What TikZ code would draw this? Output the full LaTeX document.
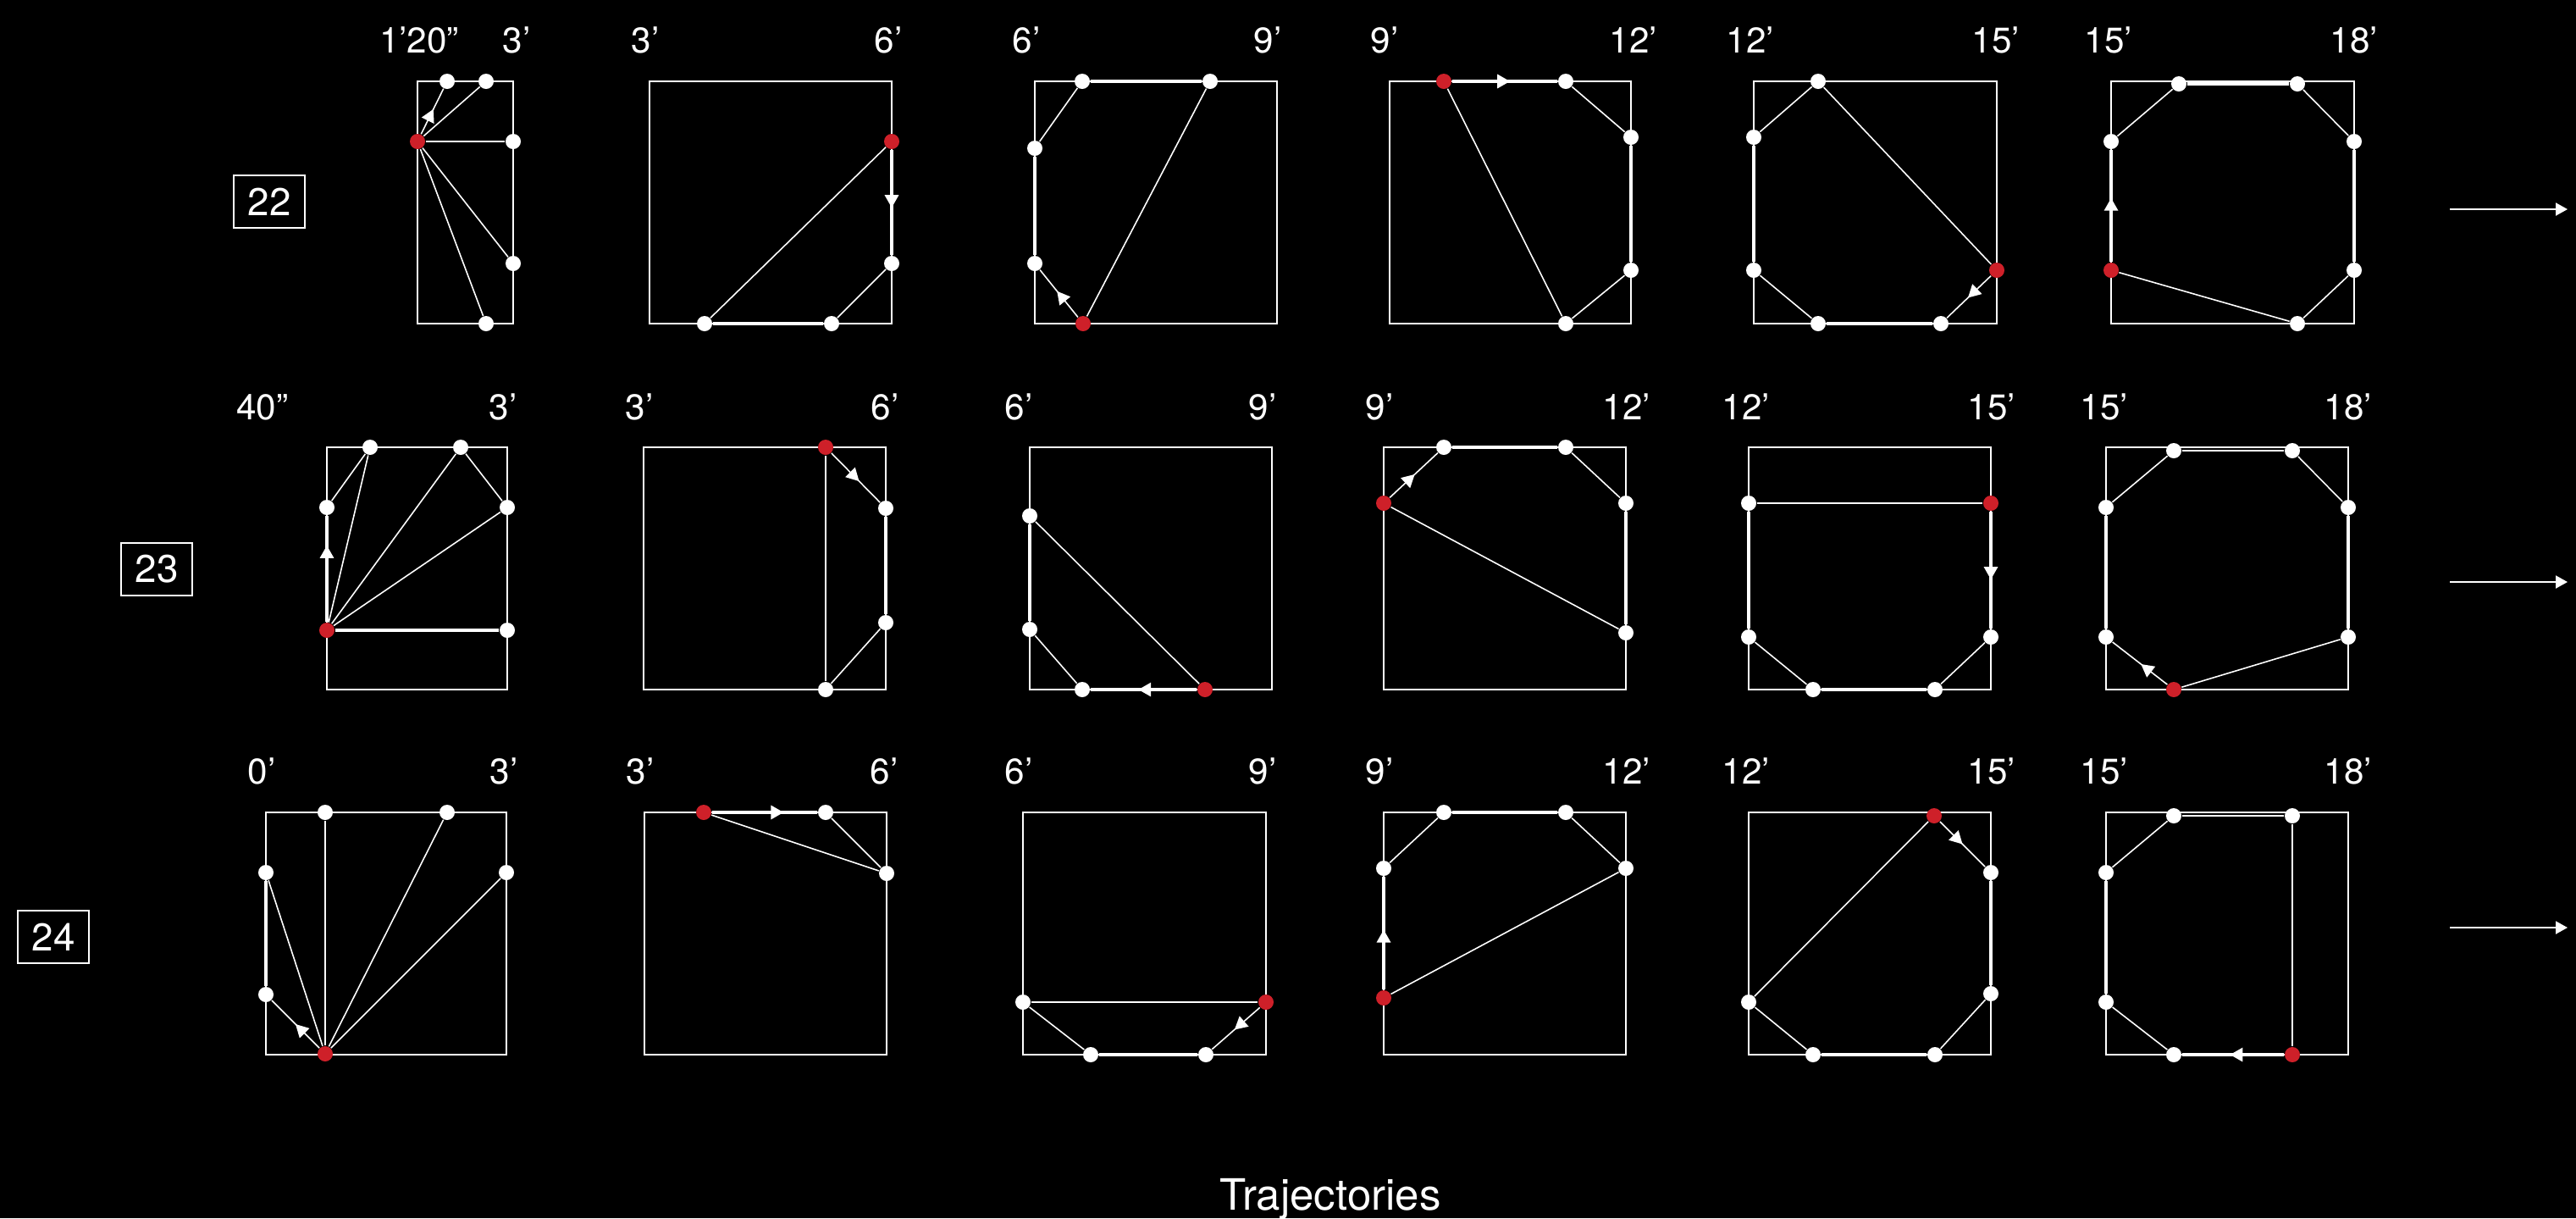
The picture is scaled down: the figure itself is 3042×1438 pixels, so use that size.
\documentclass[tikz,border=0pt]{standalone}
\usepackage{fontspec}
\setmainfont{TeX Gyre Heros}
\usetikzlibrary{arrows.meta, decorations.markings}
\definecolor{dotred}{RGB}{206,32,41}
\begin{document}
\begin{tikzpicture}[x=0.01cm, y=-0.01cm,
  panel/.style={draw=white, line width=0.57pt},
  traj/.style={draw=white, line width=0.45pt},
  edgetraj/.style={draw=white, line width=0.9pt},
  wdot/.style={circle, fill=white, inner sep=0pt, minimum size=0.18cm},
  rdot/.style={wdot, fill=dotred},
  tlabel/.style={text=white, anchor=base, inner sep=0pt, font=\fontsize{12}{14}\selectfont},
  rowbox/.style={draw=white, line width=0.57pt, text=white, inner sep=0pt, minimum width=0.84cm, minimum height=0.62cm, font=\fontsize{13}{15}\selectfont},
  flow/.style={draw=white, line width=0.57pt, -{Triangle[width=0.15cm, length=0.14cm]}},
  arrowat/.style={postaction={decorate}, decoration={markings, mark=at position #1 with {\arrow{Triangle[width=0.16cm, length=0.15cm]}}}}]
\useasboundingbox (0,0) rectangle (3042,1438);
\fill[black] (0,0) rectangle (3042,1438);

\node[rowbox] (n22) at (318,238) {22};
\node[rowbox] (n23) at (185,672) {23};
\node[rowbox] (n24) at (63,1106) {24};

\draw[panel] (493,96) rectangle (606,382);
\draw[panel] (767,96) rectangle (1053,382);
\draw[panel] (1222,96) rectangle (1508,382);
\draw[panel] (1641,96) rectangle (1926,382);
\draw[panel] (2071,96) rectangle (2358,382);
\draw[panel] (2493,96) rectangle (2780,382);
\draw[panel] (386,528) rectangle (599,814);
\draw[panel] (760,528) rectangle (1046,814);
\draw[panel] (1216,528) rectangle (1502,814);
\draw[panel] (1634,528) rectangle (1920,814);
\draw[panel] (2065,528) rectangle (2351,814);
\draw[panel] (2487,528) rectangle (2773,814);
\draw[panel] (314,959) rectangle (598,1245);
\draw[panel] (761,959) rectangle (1047,1245);
\draw[panel] (1208,959) rectangle (1495,1245);
\draw[panel] (1634,959) rectangle (1920,1245);
\draw[panel] (2065,959) rectangle (2351,1245);
\draw[panel] (2487,959) rectangle (2773,1245);

\node[tlabel] (a1lab0) at (495,62) {1’20”};
\node[tlabel] (a1lab1) at (610,62) {3’};
\node[tlabel] (a2lab0) at (762,62) {3’};
\node[tlabel] (a2lab1) at (1049,62) {6’};
\node[tlabel] (a3lab0) at (1212,62) {6’};
\node[tlabel] (a3lab1) at (1497,62) {9’};
\node[tlabel] (a4lab0) at (1635,62) {9’};
\node[tlabel] (a4lab1) at (1929,62) {12’};
\node[tlabel] (a5lab0) at (2067,62) {12’};
\node[tlabel] (a5lab1) at (2357,62) {15’};
\node[tlabel] (a6lab0) at (2490,62) {15’};
\node[tlabel] (a6lab1) at (2780,62) {18’};
\node[tlabel] (b1lab0) at (310,495) {40”};
\node[tlabel] (b1lab1) at (594,495) {3’};
\node[tlabel] (b2lab0) at (755,495) {3’};
\node[tlabel] (b2lab1) at (1045,495) {6’};
\node[tlabel] (b3lab0) at (1203,495) {6’};
\node[tlabel] (b3lab1) at (1491,495) {9’};
\node[tlabel] (b4lab0) at (1629,495) {9’};
\node[tlabel] (b4lab1) at (1921,495) {12’};
\node[tlabel] (b5lab0) at (2062,495) {12’};
\node[tlabel] (b5lab1) at (2352,495) {15’};
\node[tlabel] (b6lab0) at (2485,495) {15’};
\node[tlabel] (b6lab1) at (2773,495) {18’};
\node[tlabel] (c1lab0) at (309,925) {0’};
\node[tlabel] (c1lab1) at (595,925) {3’};
\node[tlabel] (c2lab0) at (756,925) {3’};
\node[tlabel] (c2lab1) at (1044,925) {6’};
\node[tlabel] (c3lab0) at (1203,925) {6’};
\node[tlabel] (c3lab1) at (1491,925) {9’};
\node[tlabel] (c4lab0) at (1629,925) {9’};
\node[tlabel] (c4lab1) at (1921,925) {12’};
\node[tlabel] (c5lab0) at (2062,925) {12’};
\node[tlabel] (c5lab1) at (2352,925) {15’};
\node[tlabel] (c6lab0) at (2485,925) {15’};
\node[tlabel] (c6lab1) at (2773,925) {18’};

\node[rdot] (a1s) at (493,167) {};
\node[wdot] (a1t1) at (528,96) {};
\node[wdot] (a1t2) at (574,96) {};
\node[wdot] (a1r1) at (606,167) {};
\node[wdot] (a1r2) at (606,311) {};
\node[wdot] (a1b1) at (574,382) {};
\draw[traj, arrowat=0.55] (a1s) -- (a1t1);
\draw[traj] (a1s) -- (a1t2);
\draw[traj] (a1s) -- (a1r1);
\draw[traj] (a1s) -- (a1r2);
\draw[traj] (a1s) -- (a1b1);

\node[rdot] (a2s) at (1053,167) {};
\node[wdot] (a2r2) at (1053,311) {};
\node[wdot] (a2b1) at (832,382) {};
\node[wdot] (a2b2) at (982,382) {};
\draw[edgetraj, arrowat=0.55] (a2s) -- (a2r2);
\draw[traj] (a2r2) -- (a2b2);
\draw[edgetraj] (a2b2) -- (a2b1);
\draw[traj] (a2b1) -- (a2s);

\node[rdot] (a3s) at (1279,382) {};
\node[wdot] (a3l2) at (1222,311) {};
\node[wdot] (a3l1) at (1222,175) {};
\node[wdot] (a3t1) at (1278,96) {};
\node[wdot] (a3t2) at (1429,96) {};
\draw[traj, arrowat=0.55] (a3s) -- (a3l2);
\draw[edgetraj] (a3l2) -- (a3l1);
\draw[traj] (a3l1) -- (a3t1);
\draw[edgetraj] (a3t1) -- (a3t2);
\draw[traj] (a3t2) -- (a3s);

\node[rdot] (a4s) at (1705,96) {};
\node[wdot] (a4t2) at (1849,96) {};
\node[wdot] (a4r1) at (1926,162) {};
\node[wdot] (a4r2) at (1926,319) {};
\node[wdot] (a4b2) at (1849,382) {};
\draw[edgetraj, arrowat=0.55] (a4s) -- (a4t2);
\draw[traj] (a4t2) -- (a4r1);
\draw[edgetraj] (a4r1) -- (a4r2);
\draw[traj] (a4r2) -- (a4b2);
\draw[traj] (a4b2) -- (a4s);

\node[rdot] (a5s) at (2358,319) {};
\node[wdot] (a5b2) at (2292,382) {};
\node[wdot] (a5b1) at (2147,382) {};
\node[wdot] (a5l2) at (2071,319) {};
\node[wdot] (a5l1) at (2071,162) {};
\node[wdot] (a5t1) at (2147,96) {};
\draw[traj, arrowat=0.52] (a5s) -- (a5b2);
\draw[edgetraj] (a5b2) -- (a5b1);
\draw[traj] (a5b1) -- (a5l2);
\draw[edgetraj] (a5l2) -- (a5l1);
\draw[traj] (a5l1) -- (a5t1);
\draw[traj] (a5t1) -- (a5s);

\node[rdot] (a6s) at (2493,319) {};
\node[wdot] (a6l1) at (2493,167) {};
\node[wdot] (a6t1) at (2573,99) {};
\node[wdot] (a6t2) at (2713,99) {};
\node[wdot] (a6r1) at (2780,167) {};
\node[wdot] (a6r2) at (2780,319) {};
\node[wdot] (a6b2) at (2713,382) {};
\draw[edgetraj, arrowat=0.57] (a6s) -- (a6l1);
\draw[traj] (a6l1) -- (a6t1);
\draw[edgetraj] (a6t1) -- (a6t2);
\draw[traj] (a6t2) -- (a6r1);
\draw[edgetraj] (a6r1) -- (a6r2);
\draw[traj] (a6r2) -- (a6b2);
\draw[traj] (a6b2) -- (a6s);

\node[rdot] (b1s) at (386,744) {};
\node[wdot] (b1l1) at (386,599) {};
\node[wdot] (b1t1) at (437,528) {};
\node[wdot] (b1t2) at (544,528) {};
\node[wdot] (b1r1) at (599,599) {};
\node[wdot] (b1r2) at (599,744) {};
\draw[edgetraj, arrowat=0.72] (b1s) -- (b1l1);
\draw[traj] (b1l1) -- (b1t1);
\draw[traj] (b1s) -- (b1t1);
\draw[traj] (b1s) -- (b1t2);
\draw[traj] (b1t2) -- (b1r1);
\draw[traj] (b1s) -- (b1r1);
\draw[edgetraj] (b1s) -- (b1r2);

\node[rdot] (b2s) at (975,528) {};
\node[wdot] (b2r1) at (1046,600) {};
\node[wdot] (b2r2) at (1046,735) {};
\node[wdot] (b2b1) at (975,814) {};
\draw[traj, arrowat=0.57] (b2s) -- (b2r1);
\draw[edgetraj] (b2r1) -- (b2r2);
\draw[traj] (b2r2) -- (b2b1);
\draw[traj] (b2b1) -- (b2s);

\node[rdot] (b3s) at (1423,814) {};
\node[wdot] (b3b1) at (1278,814) {};
\node[wdot] (b3l2) at (1216,743) {};
\node[wdot] (b3l1) at (1216,609) {};
\draw[edgetraj, arrowat=0.55] (b3s) -- (b3b1);
\draw[traj] (b3b1) -- (b3l2);
\draw[edgetraj] (b3l2) -- (b3l1);
\draw[traj] (b3l1) -- (b3s);

\node[rdot] (b4s) at (1634,594) {};
\node[wdot] (b4t1) at (1705,528) {};
\node[wdot] (b4t2) at (1849,528) {};
\node[wdot] (b4r1) at (1920,594) {};
\node[wdot] (b4r2) at (1920,747) {};
\draw[traj, arrowat=0.52] (b4s) -- (b4t1);
\draw[edgetraj] (b4t1) -- (b4t2);
\draw[traj] (b4t2) -- (b4r1);
\draw[edgetraj] (b4r1) -- (b4r2);
\draw[traj] (b4r2) -- (b4s);

\node[rdot] (b5s) at (2351,594) {};
\node[wdot] (b5l1) at (2065,594) {};
\node[wdot] (b5r2) at (2351,752) {};
\node[wdot] (b5l2) at (2065,752) {};
\node[wdot] (b5b1) at (2141,814) {};
\node[wdot] (b5b2) at (2285,814) {};
\draw[edgetraj, arrowat=0.58] (b5s) -- (b5r2);
\draw[traj] (b5r2) -- (b5b2);
\draw[edgetraj] (b5b2) -- (b5b1);
\draw[traj] (b5b1) -- (b5l2);
\draw[edgetraj] (b5l2) -- (b5l1);
\draw[traj] (b5l1) -- (b5s);

\node[rdot] (b6s) at (2567,814) {};
\node[wdot] (b6l2) at (2487,752) {};
\node[wdot] (b6l1) at (2487,599) {};
\node[wdot] (b6t1) at (2567,532) {};
\node[wdot] (b6t2) at (2707,532) {};
\node[wdot] (b6r1) at (2773,599) {};
\node[wdot] (b6r2) at (2773,752) {};
\draw[traj, arrowat=0.48] (b6s) -- (b6l2);
\draw[edgetraj] (b6l2) -- (b6l1);
\draw[traj] (b6l1) -- (b6t1);
\draw[traj] (b6t1) -- (b6t2);
\draw[traj] (b6t2) -- (b6r1);
\draw[edgetraj] (b6r1) -- (b6r2);
\draw[traj] (b6r2) -- (b6s);

\node[rdot] (c1s) at (384,1244) {};
\node[wdot] (c1l2) at (314,1174) {};
\node[wdot] (c1l1) at (314,1030) {};
\node[wdot] (c1t1) at (384,959) {};
\node[wdot] (c1t2) at (528,959) {};
\node[wdot] (c1r1) at (598,1030) {};
\draw[traj, arrowat=0.5] (c1s) -- (c1l2);
\draw[edgetraj] (c1l2) -- (c1l1);
\draw[traj] (c1l1) -- (c1s);
\draw[traj] (c1s) -- (c1t1);
\draw[traj] (c1s) -- (c1t2);
\draw[traj] (c1s) -- (c1r1);

\node[rdot] (c2s) at (831,959) {};
\node[wdot] (c2t2) at (975,959) {};
\node[wdot] (c2r1) at (1047,1031) {};
\draw[edgetraj, arrowat=0.68] (c2s) -- (c2t2);
\draw[traj] (c2t2) -- (c2r1);
\draw[traj] (c2r1) -- (c2s);

\node[rdot] (c3s) at (1495,1183) {};
\node[wdot] (c3b2) at (1424,1245) {};
\node[wdot] (c3b1) at (1288,1245) {};
\node[wdot] (c3l2) at (1208,1183) {};
\draw[traj, arrowat=0.53] (c3s) -- (c3b2);
\draw[edgetraj] (c3b2) -- (c3b1);
\draw[traj] (c3b1) -- (c3l2);
\draw[traj] (c3l2) -- (c3s);

\node[rdot] (c4s) at (1634,1178) {};
\node[wdot] (c4l1) at (1634,1025) {};
\node[wdot] (c4t1) at (1705,959) {};
\node[wdot] (c4t2) at (1849,959) {};
\node[wdot] (c4r1) at (1920,1025) {};
\draw[edgetraj, arrowat=0.53] (c4s) -- (c4l1);
\draw[traj] (c4l1) -- (c4t1);
\draw[edgetraj] (c4t1) -- (c4t2);
\draw[traj] (c4t2) -- (c4r1);
\draw[traj] (c4r1) -- (c4s);

\node[rdot] (c5s) at (2284,963) {};
\node[wdot] (c5r1) at (2351,1030) {};
\node[wdot] (c5r2) at (2351,1173) {};
\node[wdot] (c5b2) at (2285,1245) {};
\node[wdot] (c5b1) at (2141,1245) {};
\node[wdot] (c5l2) at (2065,1183) {};
\draw[traj, arrowat=0.5] (c5s) -- (c5r1);
\draw[edgetraj] (c5r1) -- (c5r2);
\draw[traj] (c5r2) -- (c5b2);
\draw[edgetraj] (c5b2) -- (c5b1);
\draw[traj] (c5b1) -- (c5l2);
\draw[traj] (c5l2) -- (c5s);

\node[rdot] (c6s) at (2707,1245) {};
\node[wdot] (c6b1) at (2567,1245) {};
\node[wdot] (c6l2) at (2487,1183) {};
\node[wdot] (c6l1) at (2487,1030) {};
\node[wdot] (c6t1) at (2567,963) {};
\node[wdot] (c6t2) at (2707,963) {};
\draw[edgetraj, arrowat=0.53] (c6s) -- (c6b1);
\draw[traj] (c6b1) -- (c6l2);
\draw[edgetraj] (c6l2) -- (c6l1);
\draw[traj] (c6l1) -- (c6t1);
\draw[traj] (c6t1) -- (c6t2);
\draw[traj] (c6t2) -- (c6s);

\coordinate (a-from) at (2893,247);
\coordinate (a-to) at (3032,247);
\coordinate (b-from) at (2893,687);
\coordinate (b-to) at (3032,687);
\coordinate (c-from) at (2893,1095);
\coordinate (c-to) at (3032,1095);
\draw[flow] (a-from) -- (a-to);
\draw[flow] (b-from) -- (b-to);
\draw[flow] (c-from) -- (c-to);

\node[text=white, anchor=base, inner sep=0pt, font=\fontsize{14.5}{17}\selectfont] (title) at (1571,1428) {Trajectories};
\end{tikzpicture}
\end{document}
